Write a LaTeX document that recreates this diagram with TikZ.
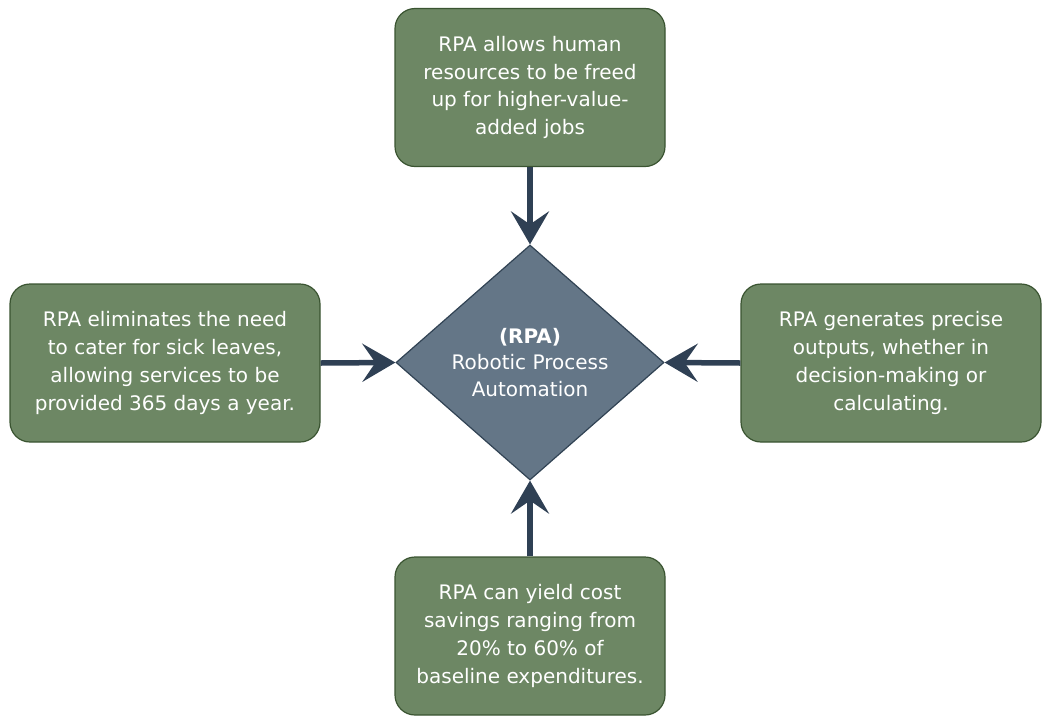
\documentclass[tikz,border=0pt]{standalone}
\usepackage{fontspec}
\setmainfont{DejaVu Sans}
\usetikzlibrary{shapes.geometric,arrows.meta}
\definecolor{boxfill}{HTML}{6D8764}
\definecolor{boxline}{HTML}{3A5431}
\definecolor{diafill}{HTML}{647687}
\definecolor{dialine}{HTML}{314354}
\definecolor{arrowcol}{HTML}{2F4054}
\begin{document}
\begin{tikzpicture}[x=1pt,y=-1pt,
  infobox/.style={draw=boxline, fill=boxfill, line width=1.2pt, rounded corners=20pt,
    minimum width=270pt, minimum height=158pt, text=white, align=center,
    font=\fontsize{20}{27.7}\selectfont, inner sep=0pt},
  centre/.style={diamond, draw=dialine, fill=diafill, line width=1.2pt,
    minimum width=268pt, minimum height=235pt, inner sep=0pt, aspect=1.14,
    text=white, align=center, font=\fontsize{20}{26.5}\selectfont},
  conn/.style={draw=arrowcol, line width=5.5pt,
    -{Stealth[length=33pt,width=38pt,inset=13pt]}}]
\useasboundingbox (0,0) rectangle (1043,715);
\node[centre] (rpa) at (530,362.5) {\textbf{(RPA)}\\Robotic Process\\Automation};
\node[infobox] (top) at (530,87.5) {RPA allows human\\resources to be freed\\up for higher-value-\\added jobs};
\node[infobox, minimum width=310pt] (left) at (165,363) {RPA eliminates the need\\to cater for sick leaves,\\allowing services to be\\provided 365 days a year.};
\node[infobox, minimum width=300pt] (right) at (891,363) {RPA generates precise\\outputs, whether in\\decision-making or\\calculating.};
\node[infobox] (bottom) at (530,636) {RPA can yield cost\\savings ranging from\\20\% to 60\% of\\baseline expenditures.};
\draw[conn] (top.south) -- (rpa.north);
\draw[conn] (left.east) -- (rpa.west);
\draw[conn] (right.west) -- (rpa.east);
\draw[conn] (bottom.north) -- (rpa.south);
\end{tikzpicture}
\end{document}
